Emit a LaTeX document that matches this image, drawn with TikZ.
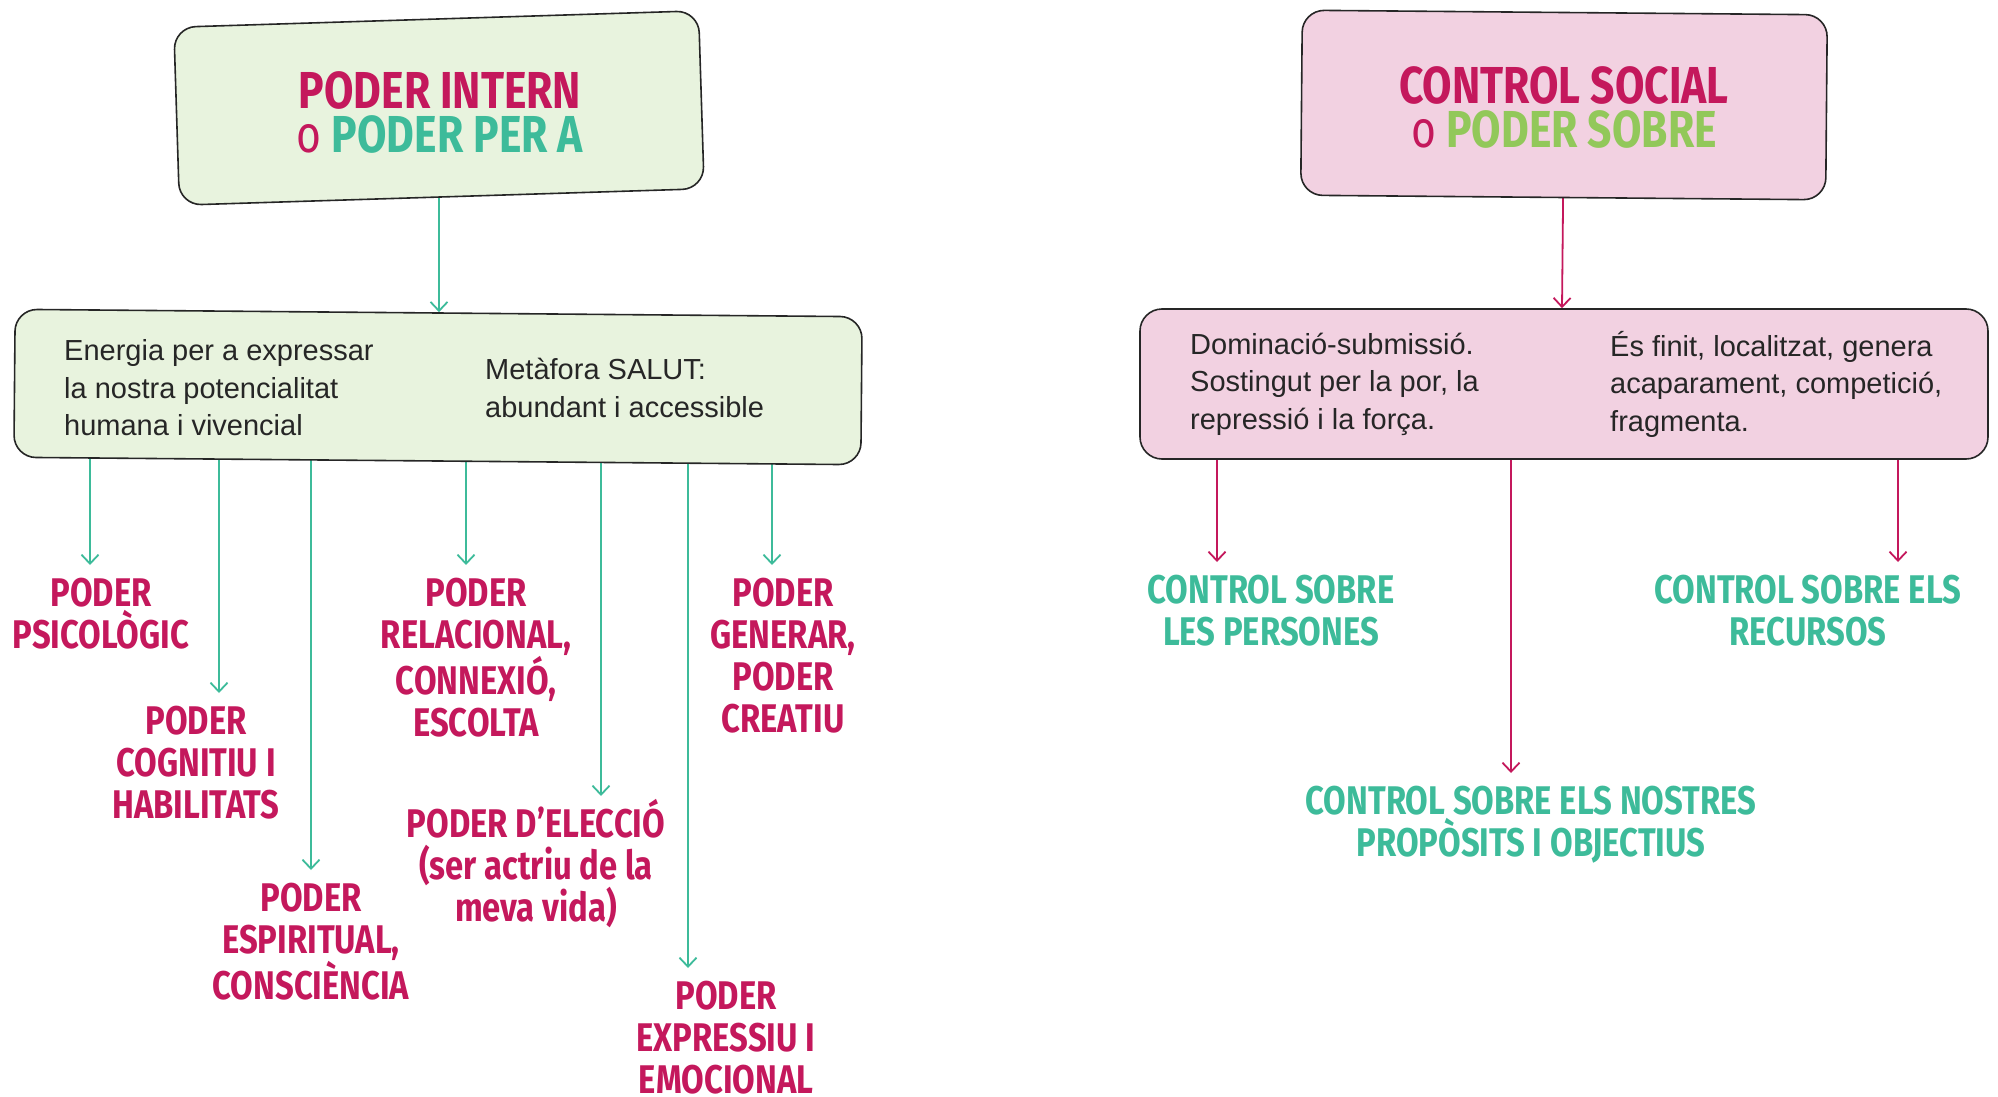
\documentclass[tikz,border=0pt]{standalone}
\usepackage{fontspec}
\setmainfont{Liberation Sans}
\newfontfamily\titfont[FakeStretch=0.82]{Fira Sans}
\usetikzlibrary{arrows.meta,shapes,backgrounds,positioning}
\definecolor{rosa}{RGB}{196,24,92}
\definecolor{verdor}{RGB}{61,187,154}
\definecolor{llima}{RGB}{146,200,90}
\definecolor{fonsverd}{RGB}{232,243,222}
\definecolor{fonsrosa}{RGB}{242,209,225}

\begin{document}
\begin{tikzpicture}[x=1pt,y=-1pt, >={Straight Barb[length=9pt,width=17pt]},
  caixa/.style={draw=black!85,line width=1.6pt,rounded corners=22pt},
  titol/.style={font=\titfont\bfseries\fontsize{52}{44}\selectfont,align=center,inner sep=0pt},
  etiqueta/.style={font=\titfont\bfseries\fontsize{40}{42}\selectfont,align=center,anchor=north,inner sep=0pt},
  cos/.style={font=\fontsize{29}{37.5}\selectfont,align=left,anchor=west,inner sep=0pt,text=black!85},
  fletxa/.style={->,line width=1.8pt},
  baixa/.style={fletxa,shorten >=13pt}]
    \useasboundingbox (0,0) rectangle (1998,1097);

    % caixes de dalt
    \node[caixa,fill=fonsverd,rotate=1.8,minimum width=525pt,minimum height=178pt] (intern) at (439,108) {};
    \node[titol] (internText) at (440,112) {\textcolor{rosa}{PODER INTERN}\\\textcolor{rosa}{\mdseries o} \textcolor{verdor}{PODER PER A}};
    \node[caixa,fill=fonsrosa,rotate=-0.5,minimum width=525pt,minimum height=185pt] (social) at (1564,105) {};
    \node[titol] (socialText) at (1564,107) {\textcolor{rosa}{CONTROL SOCIAL}\\\textcolor{rosa}{\mdseries o} \textcolor{llima}{PODER SOBRE}};

    % caixes del mig
    \node[caixa,fill=fonsverd,rotate=-0.5,minimum width=847pt,minimum height=148pt] (perA) at (438,387) {};
    \node[cos] (energia) at (64,388) {Energia per a expressar\\la nostra potencialitat\\humana i vivencial};
    \node[cos] (salut) at (485,388) {Metàfora SALUT:\\abundant i accessible};
    \node[caixa,fill=fonsrosa,minimum width=848pt,minimum height=150pt] (sobre) at (1564,384) {};
    \node[cos] (dominacio) at (1190,384) {Dominació-submissió.\\Sostingut per la por, la\\repressió i la força.};
    \node[cos] (finit) at (1610,384) {És finit, localitzat, genera\\acaparament, competició,\\fragmenta.};

    % etiquetes poder intern
    \node[etiqueta,text=rosa] (psicologic) at (101,578) {PODER\\PSICOLÒGIC};
    \node[etiqueta,text=rosa] (cognitiu)   at (196,706) {PODER\\COGNITIU I\\HABILITATS};
    \node[etiqueta,text=rosa] (espiritual) at (311,883) {PODER\\ESPIRITUAL,\\CONSCIÈNCIA};
    \node[etiqueta,text=rosa] (relacional) at (476,578) {PODER\\RELACIONAL,\\CONNEXIÓ,\\ESCOLTA};
    \node[etiqueta,text=rosa] (eleccio)    at (536,799) {PODER D’ELECCIÓ\\(ser actriu de la\\meva vida)};
    \node[etiqueta,text=rosa] (expressiu)  at (726,981) {PODER\\EXPRESSIU I\\EMOCIONAL};
    \node[etiqueta,text=rosa] (generar)    at (783,578) {PODER\\GENERAR,\\PODER\\CREATIU};

    % etiquetes control social
    \node[etiqueta,text=verdor] (persones) at (1271,575) {CONTROL SOBRE\\LES PERSONES};
    \node[etiqueta,text=verdor] (nostres)  at (1531,786) {CONTROL SOBRE ELS NOSTRES\\PROPÒSITS I OBJECTIUS};
    \node[etiqueta,text=verdor] (recursos) at (1808,575) {CONTROL SOBRE ELS\\RECURSOS};

    \begin{scope}[on background layer]
    \path[fletxa,draw=verdor] (intern.center) edge (intern.center |- perA.north);
    \path[fletxa,draw=rosa] (social.center) edge ([xshift=-2pt]social.center |- sobre.north);
    \path[baixa,draw=verdor]
        ([xshift=-11pt]psicologic.north |- perA.center) edge ([xshift=-11pt]psicologic.north)
        ([xshift=23pt]cognitiu.north |- perA.center)    edge ([xshift=23pt]cognitiu.north)
        (espiritual.north |- perA.center)               edge (espiritual.north)
        ([xshift=-10pt]relacional.north |- perA.center) edge ([xshift=-10pt]relacional.north)
        ([xshift=-38pt]expressiu.north |- perA.center)  edge ([xshift=-38pt]expressiu.north)
        ([xshift=-11pt]generar.north |- perA.center)    edge ([xshift=-11pt]generar.north);
    \path[fletxa,draw=verdor,shorten >=3pt]
        ([xshift=65pt]eleccio.north |- perA.center) edge ([xshift=65pt]eleccio.north);
    \path[baixa,draw=rosa]
        ([xshift=-54pt]persones.north |- sobre.center) edge ([xshift=-54pt]persones.north)
        ([xshift=-20pt]nostres.north |- sobre.center)  edge ([xshift=-20pt]nostres.north)
        ([xshift=90pt]recursos.north |- sobre.center)  edge ([xshift=90pt]recursos.north);
    \end{scope}
\end{tikzpicture}
\end{document}
